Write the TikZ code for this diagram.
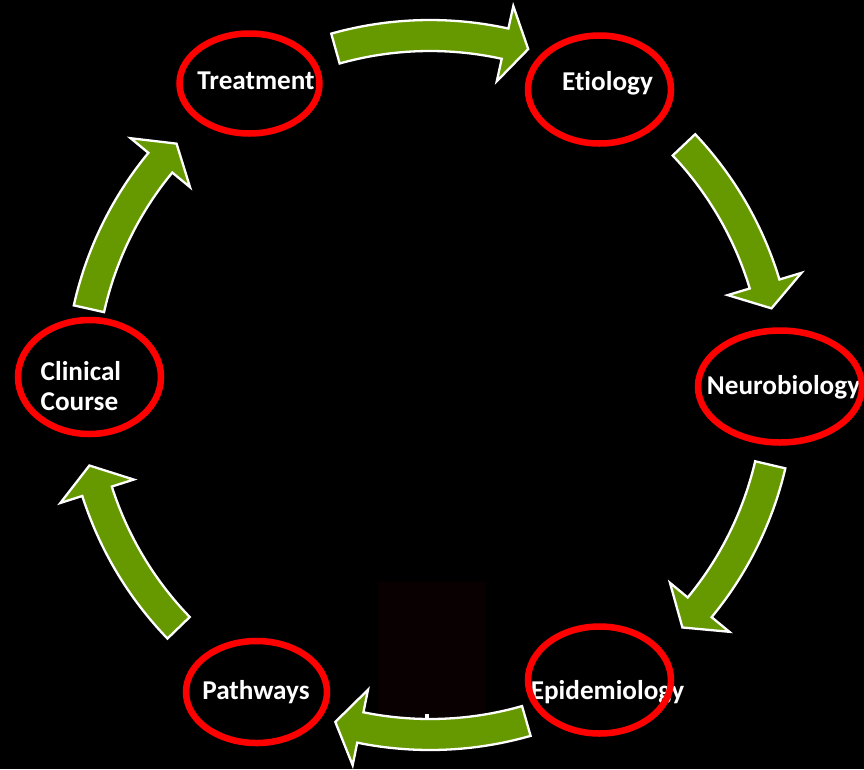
\documentclass[tikz,border=0pt]{standalone}
\usepackage{fontspec}
\setmainfont[Ligatures={NoCommon}]{Carlito}
\usetikzlibrary{shapes.geometric}
\definecolor{arrowgreen}{RGB}{102,153,0}
\definecolor{darkbox}{RGB}{9,1,1}
\newcommand\ringarrow[3]{%
  \filldraw[cyclearrow] plot[domain=#1:#2,samples=40] ({430+365*cos(\x)},{385+365*sin(\x)})
   -- ({430+388*cos(#2)},{385+388*sin(#2)})
   -- ({430+350*cos(#3)},{385+350*sin(#3)})
   -- ({430+311*cos(#2)},{385+311*sin(#2)})
   -- plot[domain=#2:#1,samples=40] ({430+334*cos(\x)},{385+334*sin(\x)})
   -- cycle;}
\begin{document}
\begin{tikzpicture}[x=1pt,y=-1pt,
  cyclearrow/.style={fill=arrowgreen,draw=white,line width=2.3pt,line join=miter},
  redring/.style={ellipse,draw=red,line width=6.5pt,inner sep=0pt},
  lbl/.style={text=white,inner sep=0pt,font=\bfseries\fontsize{27.2}{29.3}\selectfont}]
\fill[black] (0,0) rectangle (864,769);
\useasboundingbox (0,0) rectangle (864,769);
% dark box and small mark
\fill[darkbox] (378,582) rectangle (486,730);
\fill[white] (424.5,714) rectangle (428.5,718.5);
% arrows
\ringarrow{-105.7}{-77.6}{-73.7}
\ringarrow{-43.4}{-16.8}{-12.65}
\ringarrow{13.2}{39.5}{43.85}
\ringarrow{74}{101.5}{105.7}
\ringarrow{136}{162.3}{166.7}
\ringarrow{192.6}{219.5}{223.6}
% labels
\node[lbl,anchor=base] (ttreat) at (256,89) {Treatment};
\node[lbl,anchor=base] (tetio) at (607.5,90) {Etiology};
\node[lbl,anchor=base] (tneuro) at (783.5,394) {Neurobiology};
\node[lbl,anchor=base] (tepi) at (607.5,699) {Epidemiology};
\node[lbl,anchor=base] (tpath) at (256,699) {Pathways};
\node[lbl,anchor=west,align=left] (tclin) at (40.5,386) {Clinical\\Course};
% rings
\node[redring,minimum width=140pt,minimum height=100pt] (treat) at (249.5,83.5) {};
\node[redring,minimum width=143pt,minimum height=108pt] (etio) at (599.5,89.5) {};
\node[redring,minimum width=164pt,minimum height=112pt] (neuro) at (780,386.5) {};
\node[redring,minimum width=143pt,minimum height=107pt] (epi) at (599.5,680) {};
\node[redring,minimum width=141pt,minimum height=102pt] (path) at (256.5,692) {};
\node[redring,minimum width=143pt,minimum height=114pt] (clin) at (89.5,377) {};
\end{tikzpicture}
\end{document}
